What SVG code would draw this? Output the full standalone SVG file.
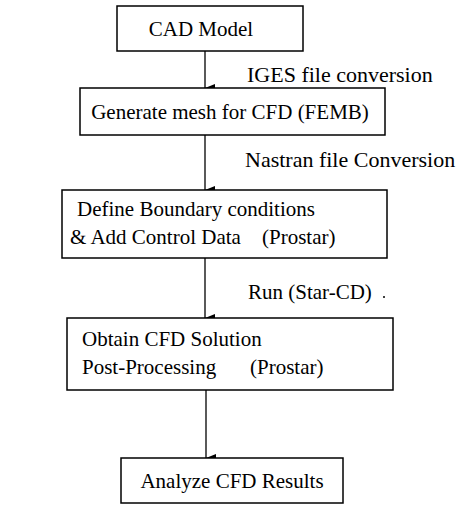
<svg xmlns="http://www.w3.org/2000/svg" width="460" height="508" viewBox="0 0 460 508">
<style>
.box{fill:#fff;stroke:#000;stroke-width:1.5}
.t{font-family:"Liberation Serif","Times New Roman",serif;font-size:21px;fill:#000}
.l{font-family:"Liberation Serif","Times New Roman",serif;font-size:22px;fill:#000}
.c{stroke:#000;stroke-width:1.3;fill:none}
</style>
<defs>
<marker id="ah" markerWidth="8" markerHeight="10" refX="4" refY="10" orient="auto-start-reverse" markerUnits="userSpaceOnUse" viewBox="0 0 8 10">
<path d="M0,0 L8,0 L4,10 Z" fill="#000"/>
</marker>
</defs>
<rect width="460" height="508" fill="#fff"/>
<g id="connectors">
<line class="c" x1="205" y1="51" x2="205" y2="88" marker-end="url(#ah)"/>
<line class="c" x1="205" y1="135" x2="205" y2="190" marker-end="url(#ah)"/>
<line class="c" x1="205" y1="258" x2="205" y2="318" marker-end="url(#ah)"/>
<line class="c" x1="206" y1="390" x2="206" y2="458" marker-end="url(#ah)"/>
<text class="l" x="247" y="82">IGES file conversion</text>
<text class="l" x="245" y="167">Nastran file Conversion</text>
<text class="t" x="248" y="299">Run (Star-CD)</text>
<circle cx="384" cy="297" r="1" fill="#000"/>
</g>
<g id="n1"><rect class="box" x="117" y="6" width="186" height="45"/><text class="t" x="201" y="36" text-anchor="middle">CAD Model</text></g>
<g id="n2"><rect class="box" x="80" y="88" width="305" height="47"/><text class="t" x="230" y="119" text-anchor="middle">Generate mesh for CFD (FEMB)</text></g>
<g id="n3"><rect class="box" x="62" y="190" width="325" height="68"/><text class="t" x="77" y="216">Define Boundary conditions</text><text class="t" x="70" y="244">&amp; Add Control Data</text><text class="t" x="262" y="244">(Prostar)</text></g>
<g id="n4"><rect class="box" x="67" y="318" width="326" height="72"/><text class="t" x="82" y="346">Obtain CFD Solution</text><text class="t" x="82" y="374">Post-Processing</text><text class="t" x="250" y="374">(Prostar)</text></g>
<g id="n5"><rect class="box" x="121" y="458" width="222" height="45"/><text class="t" x="232" y="488" text-anchor="middle">Analyze CFD Results</text></g>
</svg>
